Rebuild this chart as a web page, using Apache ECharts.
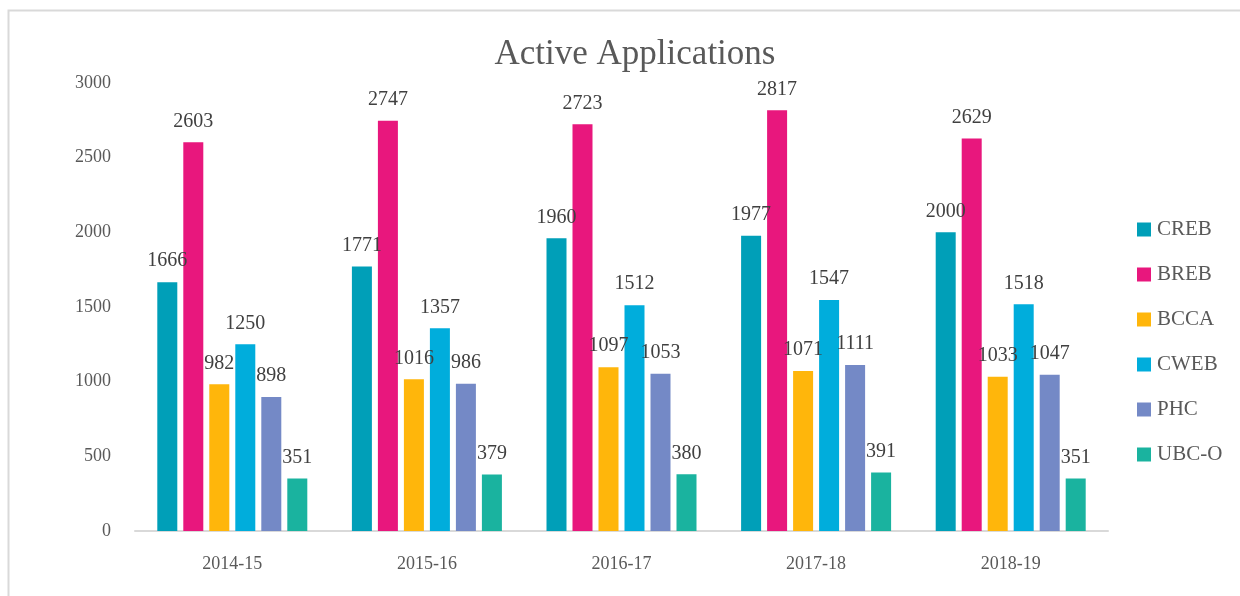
<!DOCTYPE html>
<html>
<head>
<meta charset="utf-8">
<script src="https://cdn.jsdelivr.net/npm/echarts@6/dist/echarts.min.js"></script>
<style>html,body{margin:0;padding:0;background:#fff;}#c{width:1240px;height:596px;}</style>
</head>
<body>
<div id="c"></div>
<script>
const categories = ['2014-15', '2015-16', '2016-17', '2017-18', '2018-19'];
const seriesNames = ['CREB', 'BREB', 'BCCA', 'CWEB', 'PHC', 'UBC-O'];
const CREB = [1666, 1771, 1960, 1977, 2000];
const BREB = [2603, 2747, 2723, 2817, 2629];
const BCCA = [982, 1016, 1097, 1071, 1033];
const CWEB = [1250, 1357, 1512, 1547, 1518];
const PHC = [898, 986, 1053, 1111, 1047];
const UBCO = [351, 379, 380, 391, 351];
const yTicks = [0, 500, 1000, 1500, 2000, 2500, 3000];

const values = [CREB, BREB, BCCA, CWEB, PHC, UBCO];
const colors = ['#009FB8', '#E8177D', '#FFB60B', '#00ADDC', '#7489C6', '#1AB39F'];
const font = '"Liberation Serif", "DejaVu Serif", serif';

const chart = echarts.init(document.getElementById('c'), null, {renderer: 'canvas'});
chart.setOption({
  backgroundColor: '#fff',
  animation: false,
  graphic: [{
    type: 'rect', left: 6, top: 8, shape: {width: 1260, height: 620},
    style: {fill: 'none', stroke: '#D9D9D9', lineWidth: 2}, silent: true
  }],
  title: {
    text: 'Active Applications', left: 630, top: 32, textAlign: 'center',
    textStyle: {fontFamily: font, fontSize: 35, fontWeight: 'normal', color: '#595959'}
  },
  legend: {
    orient: 'vertical', left: 1132, top: 214, itemWidth: 14, itemHeight: 14, itemGap: 24,
    icon: 'rect',
    textStyle: {fontFamily: font, fontSize: 21, color: '#595959', padding: [0, 0, 0, 1]},
    data: seriesNames
  },
  grid: {left: 135, right: 132, top: 83, bottom: 65, containLabel: false},
  xAxis: {
    type: 'category', data: categories,
    axisLine: {lineStyle: {color: '#D9D9D9', width: 2}},
    axisTick: {show: false},
    axisLabel: {fontFamily: font, fontSize: 18, color: '#595959', margin: 24}
  },
  yAxis: {
    type: 'value', min: yTicks[0], max: yTicks[yTicks.length - 1], interval: 500,
    axisLine: {show: false}, axisTick: {show: false}, splitLine: {show: false},
    axisLabel: {fontFamily: font, fontSize: 18, color: '#595959', margin: 24, formatter: v => String(v)}
  },
  series: seriesNames.map((n, i) => ({
    name: n, type: 'bar', data: values[i], barWidth: 20, barGap: '30%',
    itemStyle: {color: colors[i]},
    label: {show: true, position: 'top', distance: 11, fontFamily: font, fontSize: 20, color: '#404040'}
  }))
});
</script>
</body>
</html>
